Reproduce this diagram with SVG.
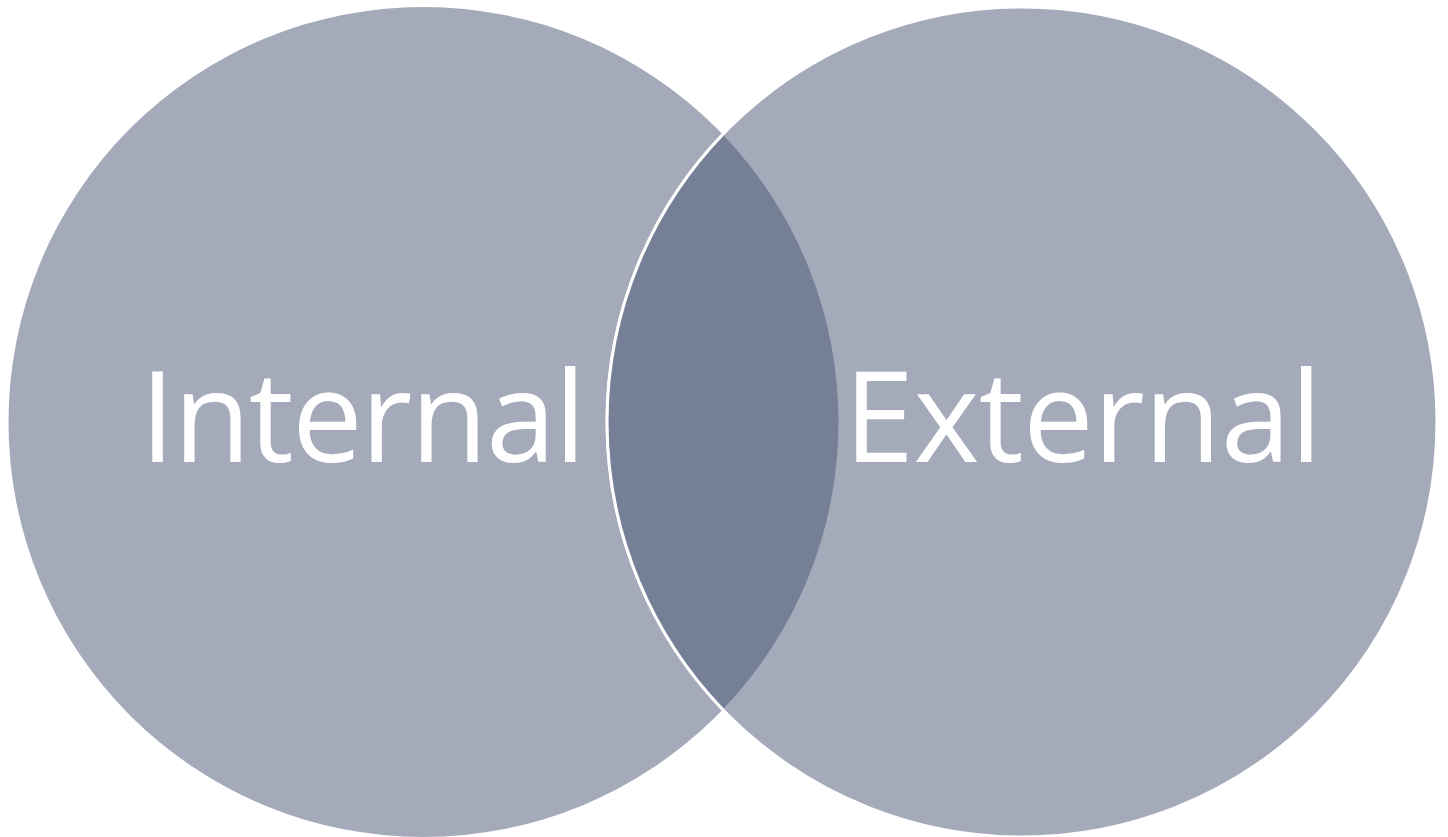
<svg xmlns="http://www.w3.org/2000/svg" width="1448" height="837" viewBox="0 0 1448 837">
<style>
.circ{fill:#A4AABA}
.lbl{font-family:"Open Sans","Noto Sans","DejaVu Sans",sans-serif;font-size:126px;fill:#FFFFFF}
</style>
<rect width="1448" height="837" fill="#FFFFFF"/>
<g id="internal">
<circle class="circ" cx="423.5" cy="422" r="415"/>
</g>
<g id="external">
<circle class="circ" cx="1022" cy="422" r="415" stroke="#FFFFFF" stroke-width="3"/>
</g>
<g id="overlap">
<path d="M722.75,134.5 A415,415 0 0 1 722.75,709.5 A415,415 0 0 1 722.75,134.5 Z" fill="#757F96"/>
<path d="M722.75,709.5 A415,415 0 0 1 722.75,134.5" fill="none" stroke="#FFFFFF" stroke-width="3"/>
</g>
<g id="labels">
<text class="lbl" x="140" y="462" textLength="446" lengthAdjust="spacing">Internal</text>
<text class="lbl" x="844" y="462" textLength="478" lengthAdjust="spacing">External</text>
</g>
</svg>
